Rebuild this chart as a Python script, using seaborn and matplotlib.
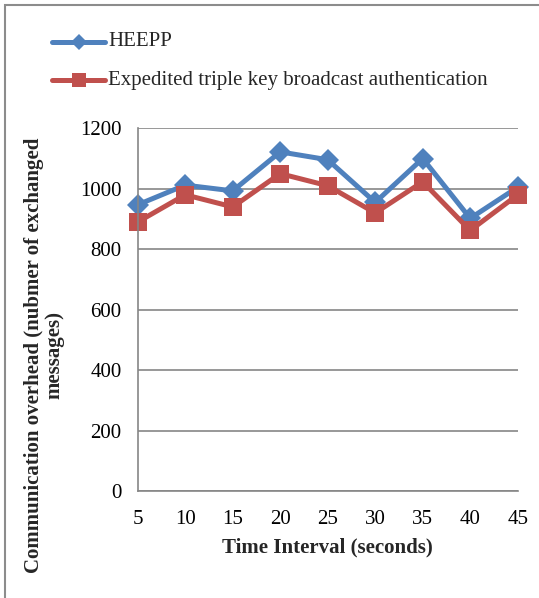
import matplotlib
matplotlib.use("Agg")
import matplotlib.pyplot as plt
from matplotlib.patches import Rectangle
import seaborn as sns
import pandas as pd

time_interval = [5, 10, 15, 20, 25, 30, 35, 40, 45]
heepp = [947, 1012, 993, 1122, 1096, 955, 1100, 902, 1005]
expedited = [890, 980, 940, 1050, 1010, 920, 1023, 862, 980]
series_names = ["HEEPP", "Expedited triple key broadcast authentication"]
y_ticks = [0, 200, 400, 600, 800, 1000, 1200]

df = pd.DataFrame({
    "Time": time_interval * 2,
    "Overhead": heepp + expedited,
    "Series": [series_names[0]] * len(time_interval) + [series_names[1]] * len(time_interval),
})

sns.set_theme(style="white")
plt.rcParams["font.family"] = ["Liberation Serif", "DejaVu Serif"]
FS = 15

fig = plt.figure(figsize=(5.39, 5.98), dpi=100)
ax = fig.add_axes([137.7 / 539, 1 - 491 / 598, (517.7 - 137.7) / 539, (491 - 128.3) / 598])

palette = {series_names[0]: "#4F81BD", series_names[1]: "#C0504D"}
markers = {series_names[0]: "D", series_names[1]: "s"}
sns.lineplot(data=df, x="Time", y="Overhead", hue="Series", style="Series",
             palette=palette, markers=markers, dashes=False, linewidth=3.6,
             markersize=11.5, markeredgewidth=0, ax=ax, legend=False, clip_on=False)
# square markers are a bit bigger
for line in ax.lines:
    if line.get_marker() == "s":
        line.set_markersize(13.5)

ax.set_xlim(5, 45)
ax.set_ylim(0, 1200)
ax.set_xticks(time_interval)
ax.set_yticks(y_ticks)
ax.yaxis.grid(True, color="#868686", linewidth=1.2)
ax.set_axisbelow(True)
for side in ["top", "right"]:
    ax.spines[side].set_visible(False)
for side in ["left", "bottom"]:
    ax.spines[side].set_color("#868686")
    ax.spines[side].set_linewidth(1.2)
ax.tick_params(axis="both", which="both", direction="out", length=4.5, width=1.2,
               color="#868686", labelsize=FS, labelcolor="black")
ax.tick_params(axis="y", pad=7)
ax.tick_params(axis="x", pad=9)
ax.set_xlabel("Time Interval (seconds)", fontsize=FS, fontweight="bold", labelpad=6)
ax.set_ylabel("")

fig.text(44 / 539, 1 - 355 / 598, "Communication overhead (nubmer of exchanged\nmessages)",
         rotation=90, ha="center", va="center", fontsize=FS, fontweight="bold",
         multialignment="center", linespacing=1.0)

# legend entries at the top left
for i, (name, mk, ms) in enumerate(zip(series_names, ["D", "s"], [8, 10])):
    y = 1 - (42 + 38 * i) / 598
    fig.add_artist(plt.Line2D([52 / 539, 105 / 539], [y, y], color=palette[name],
                              linewidth=3.6, transform=fig.transFigure))
    fig.add_artist(plt.Line2D([79 / 539], [y], color=palette[name], marker=mk,
                              markersize=ms, markeredgewidth=0, transform=fig.transFigure))
    fig.text(108 / 539, y, name, ha="left", va="center", fontsize=FS)

# chart frame
fig.add_artist(Rectangle((5 / 539, -0.01), 1.0, 1 - 5 / 598 + 0.01, transform=fig.transFigure,
                         fill=False, edgecolor="#8c8c8c", linewidth=1.5))

fig.savefig("out.png", dpi=100)
